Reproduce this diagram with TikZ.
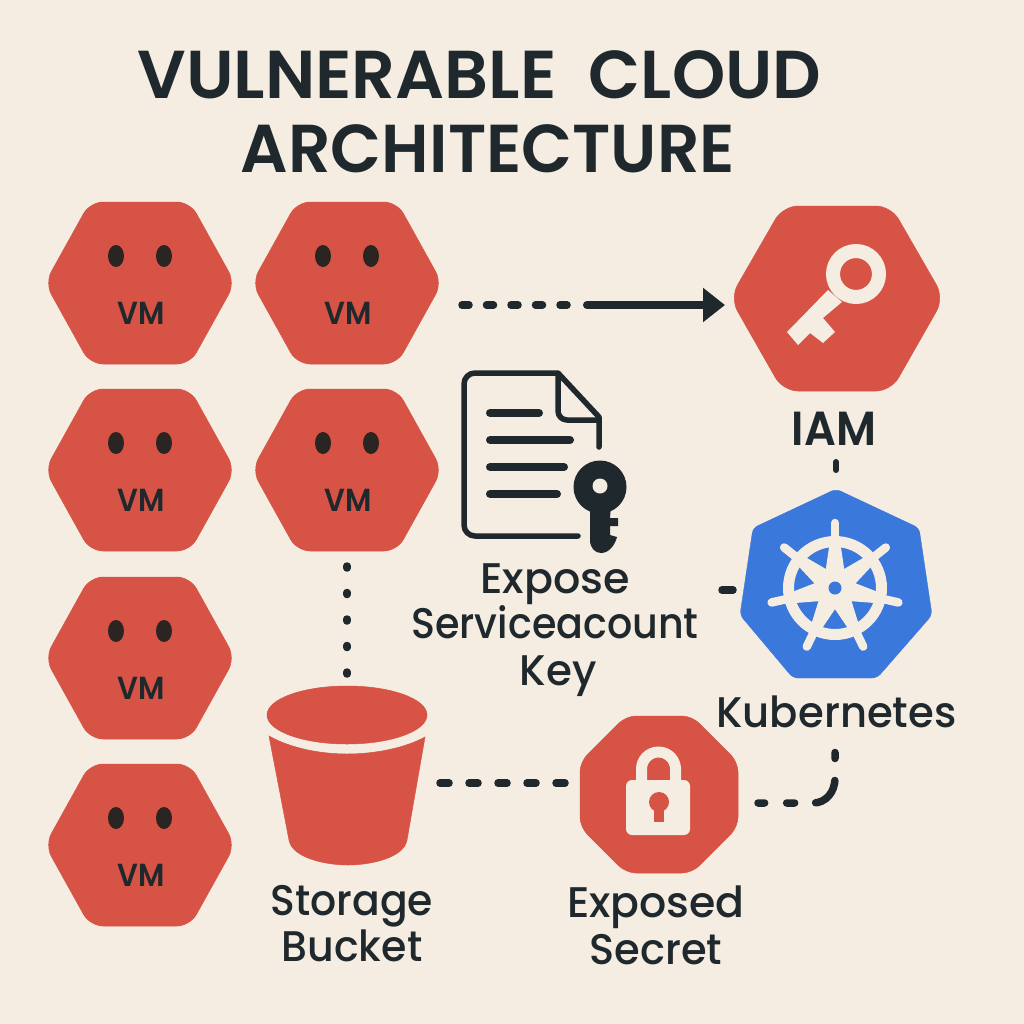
\documentclass[tikz,border=0pt]{standalone}
\usepackage{fontspec}
\setmainfont{Poppins Medium}
\newfontfamily\titlefont{Poppins SemiBold}
\usetikzlibrary{arrows.meta}
\definecolor{bgc}{HTML}{F5ECE2}
\definecolor{redc}{HTML}{D65345}
\definecolor{bluec}{HTML}{3A78DB}
\definecolor{inkc}{HTML}{1F282C}
\definecolor{eyec}{HTML}{2A2422}
\tikzset{
 redshape/.style={fill=redc,draw=redc,line width=0.5pt},
 label/.style={font=\fontsize{43}{43}\selectfont,text=inkc,anchor=base,inner sep=0pt},
 title/.style={font=\titlefont\fontsize{68}{68}\selectfont,text=inkc,anchor=base,inner sep=0pt},
 vmtext/.style={font=\titlefont\fontsize{32}{32}\selectfont,text=inkc,anchor=base,inner sep=0pt},
 flow/.style={draw=inkc,line width=7.5bp,line cap=round},
 iconline/.style={draw=inkc,line width=5.5bp,line cap=round,line join=round},
}
\newcommand{\sx}[2]{\scalebox{#1}[1]{#2}}
\newcommand{\vmhex}[3]{%
 \begin{scope}[shift={(#2,#3)}]
  \fill[redshape,rounded corners=13bp] (-95,0)--(-50,-81)--(50,-81)--(95,0)--(50,81)--(-50,81)--cycle;
  \fill[eyec] (-24,-27) ellipse [x radius=8,y radius=11];
  \fill[eyec] (24,-27) ellipse [x radius=8,y radius=11];
  \node[vmtext] (#1) at (1,41) {\sx{0.92}{VM}};
 \end{scope}}
\begin{document}
\begin{tikzpicture}[x=1bp,y=-1bp]
\useasboundingbox (0,0) rectangle (1024,1024);
\fill[bgc] (0,0) rectangle (1024,1024);
% title
\node[title] (t1) at (347,98) {\sx{1.01}{VULNERABLE}};
\node[title] (t2) at (705,98) {CLOUD};
\node[title] (t3) at (488,172) {\sx{0.98}{ARCHITECTURE}};
% VMs
\vmhex{vma}{140}{283}
\vmhex{vmb}{140}{470}
\vmhex{vmc}{140}{658}
\vmhex{vmd}{140}{845}
\vmhex{vme}{347}{283}
\vmhex{vmf}{347}{470}
% IAM
\fill[redshape,rounded corners=15bp] (730,298)--(783,206)--(891,206)--(944,298)--(891,391)--(783,391)--cycle;
\fill[bgc] (828,290)--(787,332)--(798,345)--(810,333)--(823,343)--(835,332)--(823,318)--(842,302)--cycle;
\draw[bgc,line width=14bp] (856,274) circle [radius=23];
\node[label,font=\titlefont\fontsize{48}{48}\selectfont] (iam) at (834,445) {\sx{0.93}{IAM}};
% Kubernetes
\fill[bluec,draw=bluec,rounded corners=5bp] (836,489)--(919,528)--(932,615)--(877,678)--(793,678)--(740,615)--(753,528)--cycle;
\draw[bgc,line width=11bp] (835,588) circle [radius=46.5];
\foreach \a in {90,141.43,192.86,244.29,295.71,347.14,398.57}{
  \begin{scope}[shift={(835,588)},rotate=\a]
  \fill[bgc] (0,-12)--(44,-5.5)--(44,5.5)--(0,12)--cycle;
  \draw[bgc,line width=8.5bp,line cap=round] (40,0)--(65,0);
  \end{scope}
}
\fill[bluec] (835,588) circle [radius=6.5];
\node[label] (k8s) at (836.5,727) {\sx{0.975}{Kubernetes}};
% document icon
\draw[iconline] (578,536)--(475,536) arc[start angle=90,end angle=180,radius=11] --(464,384) arc[start angle=180,end angle=270,radius=11] --(558,373)--(599,417)--(599,447);
\draw[iconline] (558,375)--(558,411) arc[start angle=180,end angle=90,radius=9] --(599,420);
\foreach \yy/\xe in {413/539,440/570,467/564,494/557}{
  \draw[draw=inkc,line width=8bp,line cap=round] (490,\yy)--(\xe,\yy);
}
\fill[inkc] (590,505)--(590,540) .. controls (590,548) and (595,553) .. (601,553) .. controls (609,553) and (615,545) .. (617,537)--(610,535)--(610,526)--(618,526)--(618,518)--(610,518)--(611,505)--cycle;
\fill[inkc] (600,487) circle [radius=26.5];
\fill[bgc] (600,486) circle [radius=7.5];
\node[label] (exp1) at (555,593) {\sx{1.0}{Expose}};
\node[label] (exp2) at (555,638) {\sx{0.925}{Serviceacount}};
\node[label] (exp3) at (558,685) {\sx{0.98}{Key}};
% bucket
\fill[redshape] (347,715) ellipse [x radius=80,y radius=29];
\fill[redshape] (269,736) .. controls (290,748) and (320,754) .. (347,754) .. controls (375,754) and (405,748) .. (425,737) -- (407,840) .. controls (404,858) and (370,865) .. (348,865) .. controls (326,865) and (292,858) .. (289,840) -- cycle;
\node[label] (st1) at (352,915) {\sx{0.955}{Storage}};
\node[label] (st2) at (352,961) {\sx{0.96}{Bucket}};
% secret
\fill[redshape,rounded corners=10bp] (626,716)--(692,716)--(738,762)--(738,827)--(692,873)--(626,873)--(580,827)--(580,762)--cycle;
\draw[bgc,line width=11bp] (641.5,785)--(641.5,769) arc[start angle=180,end angle=360,radius=17]--(675.5,785);
\fill[bgc,rounded corners=6bp] (626,780) rectangle (690,835);
\fill[redc] (659,802) circle [radius=10];
\fill[redc] (654,804) rectangle (664,822);
\node[label] (se1) at (656,917) {\sx{0.995}{Exposed}};
\node[label] (se2) at (656,964) {\sx{0.97}{Secret}};
% connectors
\coordinate (a1) at (462,305);
\coordinate (a2) at (567,305);
\coordinate (a3) at (587,305);
\coordinate (a4) at (725,305);
\draw[flow,dash pattern=on 7bp off 17.5bp] (a1)--(a2);
\draw[draw=inkc,line width=8bp,line cap=round,-{Triangle[length=22bp,width=33bp]}] (a3)--(a4);
\coordinate (b1) at (347,566);
\coordinate (b2) at (347,674);
\draw[flow,dash pattern=on 2bp off 24.5bp] (b1)--(b2);
\coordinate (c1) at (440,783);
\coordinate (c2) at (566,783);
\draw[flow,dash pattern=on 9bp off 20bp] (c1)--(c2);
\coordinate (d1) at (836,462);
\coordinate (d2) at (836,470);
\draw[flow,line width=6bp] (d1)--(d2);
\coordinate (e1) at (722,590);
\coordinate (e2) at (733,590);
\draw[flow] (e1)--(e2);
\coordinate (f1) at (835,752.5);
\coordinate (f2) at (835,778);
\coordinate (f3) at (813,803);
\coordinate (f4) at (758,803);
\draw[flow,dash pattern=on 6bp off 22bp on 32bp off 21bp on 8bp off 22bp on 8bp off 100bp] (f1)--(f2) .. controls (835,792) and (826,803) .. (f3)--(f4);
\end{tikzpicture}
\end{document}
